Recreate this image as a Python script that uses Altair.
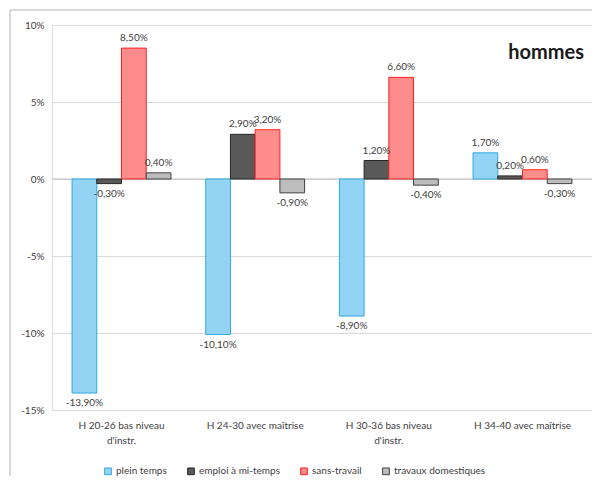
import altair as alt
import pandas as pd

categories = ["H 20-26 bas niveau d'instr.", "H 24-30 avec maîtrise",
              "H 30-36 bas niveau d'instr.", "H 34-40 avec maîtrise"]
series = ["plein temps", "emploi à mi-temps", "sans-travail", "travaux domestiques"]
plein_temps = [-13.9, -10.1, -8.9, 1.7]
emploi_mi_temps = [-0.3, 2.9, 1.2, 0.2]
sans_travail = [8.5, 3.2, 6.6, 0.6]
travaux_domestiques = [0.4, -0.9, -0.4, -0.3]
y_ticks = [-15, -10, -5, 0, 5, 10]

fills = ["#93d3f3", "#595959", "#ff8c8c", "#bdbdbd"]
strokes = ["#2fa8e2", "#262626", "#ff2020", "#404040"]

rows = []
for i, c in enumerate(categories):
    for s, vals in zip(series, [plein_temps, emploi_mi_temps, sans_travail, travaux_domestiques]):
        rows.append({"cat": c, "serie": s, "val": vals[i]})
df = pd.DataFrame(rows)
df["label"] = df["val"].map(lambda v: f"{v:.2f}".replace(".", ",") + "%")

FONT = "Lato"
TXT = "#404040"

x_enc = alt.X("cat:N", sort=categories,
              scale=alt.Scale(paddingInner=0.26, paddingOuter=0.15),
              axis=alt.Axis(title=None, labelAngle=0, domain=False, ticks=False,
                            labelPadding=10, labelFontSize=10, labelColor=TXT,
                            labelLineHeight=15, labelFont=FONT, labelLimit=200,
                            labelExpr="indexof(datum.label, 'niveau ') > 0 ? split(replace(datum.label, 'niveau ', 'niveau|'), '|') : datum.label"))
y_enc = alt.Y("val:Q", scale=alt.Scale(domain=[-15, 10], nice=False, zero=True),
              axis=alt.Axis(values=y_ticks, labelExpr="datum.value + '%'", title=None,
                            domain=False, ticks=False, gridColor="#d9d9d9", gridWidth=1,
                            labelPadding=8, labelFontSize=10, labelColor=TXT, labelFont=FONT))
xoff = alt.XOffset("serie:N", sort=series, scale=alt.Scale(domain=series, paddingInner=0, paddingOuter=0))

leg = alt.Legend(title=None, orient="none", direction="horizontal", legendX=51, legendY=441,
                 symbolType="square", symbolSize=45, symbolStrokeWidth=1,
                 labelFontSize=10, labelColor=TXT, labelFont=FONT, columnPadding=18, labelOffset=3)

base = alt.Chart(df)

one = pd.DataFrame({"a": [0]})
border_left = alt.Chart(one).mark_rule(color="#b0b0b0", strokeWidth=1).encode(
    x=alt.value(-42), y=alt.value(-15), y2=alt.value(460))
border_top = alt.Chart(one).mark_rule(color="#b0b0b0", strokeWidth=1).encode(
    x=alt.value(-42), x2=alt.value(545), y=alt.value(-15))

zero = alt.Chart(pd.DataFrame({"z": [0]})).mark_rule(color="#bfbfbf", strokeWidth=1).encode(y="z:Q")

bars = base.mark_bar(strokeWidth=1).encode(
    x=x_enc, xOffset=xoff, y=y_enc,
    color=alt.Color("serie:N", scale=alt.Scale(domain=series, range=fills), legend=leg),
    stroke=alt.Stroke("serie:N", scale=alt.Scale(domain=series, range=strokes), legend=leg),
)

pos = base.transform_filter("datum.val >= 0").mark_text(
    baseline="bottom", dy=-5, fontSize=10, color=TXT, font=FONT).encode(
    x=x_enc, xOffset=xoff, y=y_enc, text="label:N")
neg = base.transform_filter("datum.val < 0").mark_text(
    baseline="top", dy=5, fontSize=10, color=TXT, font=FONT).encode(
    x=x_enc, xOffset=xoff, y=y_enc, text="label:N")

chart = alt.layer(border_left, border_top, zero, bars, pos, neg).properties(
    width=540, height=385,
    title=alt.TitleParams("hommes", anchor="end", frame="group", orient="top", offset=0,
                          dx=-8, dy=69, fontSize=20, fontWeight="bold", font=FONT,
                          color="#1a1a1a", baseline="alphabetic"),
    autosize=alt.AutoSizeParams(type="none"),
    padding={"left": 44, "top": 17, "right": 0, "bottom": 66},
).configure_view(stroke=None).configure(background="white", font=FONT)

chart.save("out.html", embed_options={"renderer": "svg", "actions": False})
